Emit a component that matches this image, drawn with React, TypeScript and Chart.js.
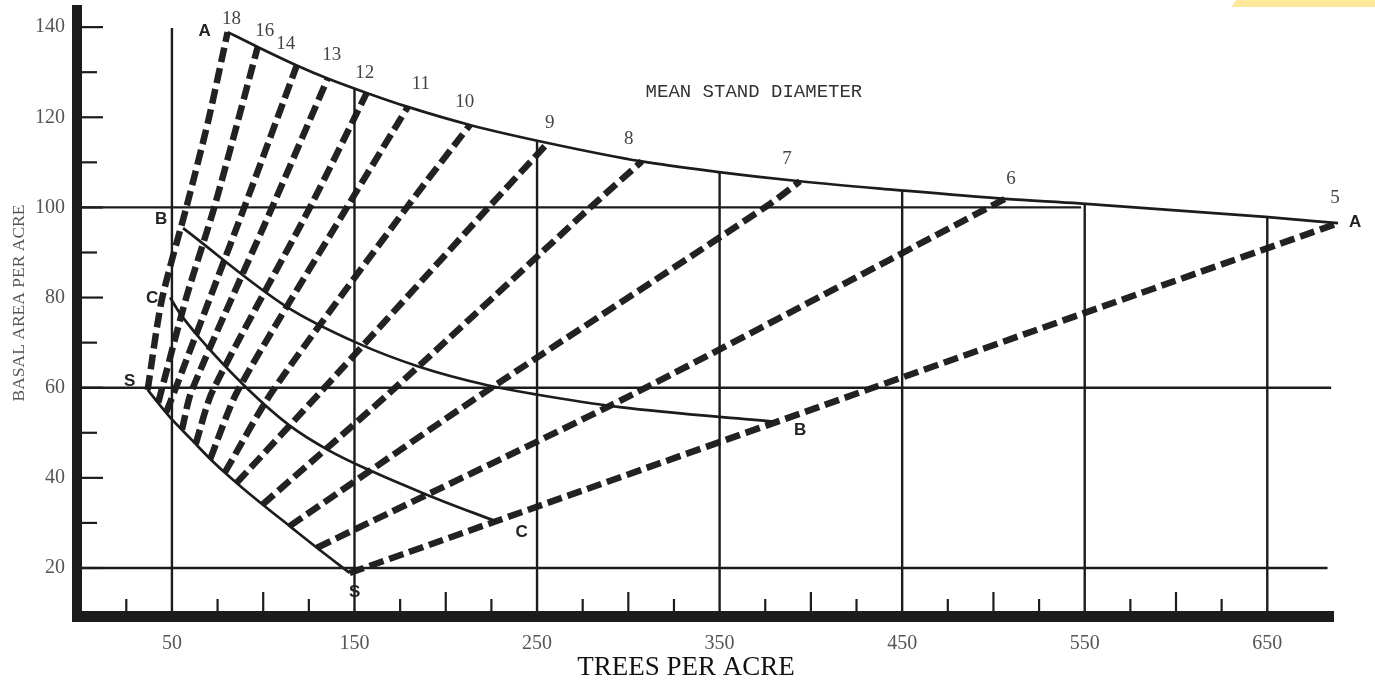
import React, { useEffect, useRef } from "react";
import { Chart, registerables } from "chart.js";

Chart.register(...registerables);

// ---- axis ranges & tick values ----
const X_MIN = -2;
const X_MAX = 686;
const Y_MIN = 9.35;
const Y_MAX = 143.8;
const xLabels = [50, 150, 250, 350, 450, 550, 650];
const xTickMarks = [25, 75, 100, 125, 175, 200, 225, 275, 300, 325, 375, 400, 425, 475, 500, 525, 575, 600, 625];
const yLabels = [20, 40, 60, 80, 100, 120, 140];
const yMinorMarks = [30, 50, 70, 90, 110, 130];

// ---- reference grid lines ----
const hLines = [20, 60, 100];
const hLineEnds = [683, 685, 548];
const vLines = [50, 150, 250, 350, 450, 550, 650];
const vTops = [139.8, 126.4, 114.8, 107.9, 103.8, 100.8, 97.9];

// ---- curves (trees per acre, basal area) ----
const curveA = [[80.5, 138.9], [97, 135.6], [118.4, 131.5], [135.3, 128.6], [156.7, 125.4], [179.2, 122.3], [213.2, 118.3], [255.9, 114.3], [307.4, 110.2], [348.5, 107.9], [394, 105.8], [446, 103.9], [506.3, 101.9], [547, 100.9], [649, 97.9], [688.8, 96.5]];
const curveB = [[56.1, 95.4], [112.7, 78], [151, 70], [185.8, 64.6], [222.3, 60.6], [249.7, 58.5], [295.3, 55.7], [379.3, 52.5]];
const curveC = [[49, 80], [54.2, 76.6], [65.2, 71], [90.8, 60], [114.5, 51.6], [136.4, 46], [156.5, 42], [191.2, 36], [227.8, 30.3]];
const curveS = [[36.7, 59.5], [43.3, 56.2], [50.4, 52.8], [61.4, 48.2], [70.7, 44.3], [80, 40.8], [88.8, 37.7], [98.1, 34.6], [114.5, 29.3], [131, 24], [147.4, 18.9]];

// ---- mean stand diameter lines (inches) ----
const diameters = [18, 16, 14, 13, 12, 11, 10, 9, 8, 7, 6, 5];
const dashed18 = [[36.7, 59.5], [44.4, 79.4], [58.1, 100.3], [70, 119.4], [80.5, 138.9]];
const dashed16 = [[42.5, 56.7], [58, 80.2], [73.4, 100.3], [97, 135.6]];
const dashed14 = [[46.8, 54.5], [51.5, 59.3], [89.9, 100.3], [118.4, 131.5]];
const dashed13 = [[55.5, 50.7], [60.8, 59.3], [105.2, 100.3], [135.3, 128.6]];
const dashed12 = [[63, 47.5], [72.3, 59.3], [126, 100.3], [156.7, 125.4]];
const dashed11 = [[71, 44.2], [86, 59.3], [146.3, 100.3], [179.2, 122.3]];
const dashed10 = [[79, 41.2], [105.2, 59.3], [179.2, 100.3], [213.2, 118.3]];
const dashed9 = [[85.5, 38.9], [132, 59.3], [224.1, 100.3], [255.9, 114.3]];
const dashed8 = [[99.7, 34.1], [170.4, 59.3], [280, 100.3], [307.4, 110.2]];
const dashed7 = [[114.5, 29.3], [222.5, 59.3], [375.9, 100.3], [394, 105.8]];
const dashed6 = [[129.5, 24.5], [300.8, 58.2], [506.3, 101.9]];
const dashed5 = [[147.4, 18.9], [688.8, 96.5]];
const dashedLines = [dashed18, dashed16, dashed14, dashed13, dashed12, dashed11, dashed10, dashed9, dashed8, dashed7, dashed6, dashed5];

// ---- label placement (style, px offsets from the line tops) ----
const diameterLabelOffsets = [[4, -13], [7, -16], [-11, -21], [4, -23], [-2, -20], [13, -23], [-5, -23], [2, -20], [-13, -22], [-13, -22], [6, -20], [-3, -25]];
const curves: Record<string, number[][]> = { A: curveA, B: curveB, C: curveC, S: curveS };
const letterMarks = [
  { curve: "A", end: false, dx: -23, dy: -1 },
  { curve: "A", end: true, dx: 17, dy: -1 },
  { curve: "B", end: false, dx: -22, dy: -9 },
  { curve: "B", end: true, dx: 27, dy: 9 },
  { curve: "C", end: false, dx: -18, dy: 1 },
  { curve: "C", end: true, dx: 25, dy: 11 },
  { curve: "S", end: false, dx: -18, dy: -9 },
  { curve: "S", end: true, dx: 5, dy: 19 },
];

const INK = "#1c1c1c";
const toPts = (arr: number[][]) => arr.map(([x, y]) => ({ x, y }));

const overlayPlugin = {
  id: "overlay",
  afterDatasetsDraw(chart: any) {
    const { ctx, chartArea, scales } = chart;
    const px = (v: number) => scales.x.getPixelForValue(v);
    const py = (v: number) => scales.y.getPixelForValue(v);
    ctx.save();
    // inner tick marks
    ctx.strokeStyle = INK;
    ctx.lineWidth = 2.2;
    const left = chartArea.left + 5;
    const drawY = (v: number, len: number) => {
      ctx.beginPath();
      ctx.moveTo(left, py(v));
      ctx.lineTo(left + len, py(v));
      ctx.stroke();
    };
    yLabels.forEach((v) => drawY(v, 21));
    yMinorMarks.forEach((v) => drawY(v, 15));
    const base = chartArea.bottom - 5;
    xTickMarks.forEach((v) => {
      const len = v % 100 === 0 ? 19 : 12;
      ctx.beginPath();
      ctx.moveTo(px(v), base);
      ctx.lineTo(px(v), base - len);
      ctx.stroke();
    });

    // diameter labels
    ctx.fillStyle = "#444";
    ctx.font = '19px "Liberation Serif"';
    ctx.textAlign = "center";
    ctx.textBaseline = "middle";
    dashedLines.forEach((pts, i) => {
      const [x, y] = pts[pts.length - 1];
      const [dx, dy] = diameterLabelOffsets[i];
      ctx.fillText(String(diameters[i]), px(x) + dx, py(y) + dy);
    });

    // curve letters
    ctx.fillStyle = "#222";
    ctx.font = 'bold 17px "Liberation Sans"';
    letterMarks.forEach((m) => {
      const c = curves[m.curve];
      const [x, y] = m.end ? c[c.length - 1] : c[0];
      ctx.fillText(m.curve, px(x) + m.dx, py(y) + m.dy);
    });

    // annotation
    ctx.fillStyle = "#333";
    ctx.font = '19px "Liberation Mono"';
    ctx.fillText("MEAN STAND DIAMETER", px(368.8), py(125.6));

    // axis titles
    ctx.fillStyle = "#111";
    ctx.font = '27px "Liberation Serif"';
    ctx.fillText("TREES PER ACRE", 686, 668);
    ctx.save();
    ctx.translate(19, 303);
    ctx.rotate(-Math.PI / 2);
    ctx.fillStyle = "#555";
    ctx.font = '17.5px "Liberation Serif"';
    ctx.fillText("BASAL AREA PER ACRE", 0, 0);
    ctx.restore();
    ctx.restore();
  },
};

export default function App() {
  const ref = useRef<HTMLCanvasElement | null>(null);

  useEffect(() => {
    if (!ref.current) return;
    const datasets: any[] = [];
    hLines.forEach((v, i) =>
      datasets.push({
        label: `BA ${v}`,
        data: [{ x: 0, y: v }, { x: hLineEnds[i], y: v }],
        showLine: true, borderColor: INK, borderWidth: 2.4, pointRadius: 0, tension: 0,
      })
    );
    vLines.forEach((v, i) =>
      datasets.push({
        label: `TPA ${v}`,
        data: [{ x: v, y: Y_MIN }, { x: v, y: vTops[i] }],
        showLine: true, borderColor: INK, borderWidth: 2.4, pointRadius: 0, tension: 0,
      })
    );
    Object.entries(curves).forEach(([name, arr]) =>
      datasets.push({
        label: `Curve ${name}`,
        data: toPts(arr),
        showLine: true, borderColor: INK, borderWidth: 2.7, pointRadius: 0,
        cubicInterpolationMode: "monotone", clip: false,
      })
    );
    dashedLines.forEach((arr, i) =>
      datasets.push({
        label: `${diameters[i]} in`,
        data: toPts(arr),
        showLine: true, borderColor: "#222", borderWidth: 6.5, borderDash: [15, 6],
        pointRadius: 0, tension: 0.25, clip: false,
      })
    );

    const chart = new Chart(ref.current, {
      type: "scatter",
      data: { datasets },
      options: {
        animation: false,
        responsive: false,
        devicePixelRatio: 1,
        layout: { padding: { top: 10, right: 42, bottom: 0, left: 0 } },
        plugins: { legend: { display: false }, tooltip: { enabled: false } },
        scales: {
          x: {
            type: "linear",
            min: X_MIN,
            max: X_MAX,
            afterBuildTicks: (ax: any) => { ax.ticks = xLabels.map((v) => ({ value: v })); },
            afterFit: (ax: any) => { ax.height = 65; ax.paddingLeft = 0; ax.paddingRight = 0; },
            grid: { display: false, drawTicks: false },
            border: { display: true, width: 11, color: INK },
            ticks: {
              padding: 18, color: "#555", autoSkip: false, maxRotation: 0,
              font: { family: "Liberation Serif", size: 20, lineHeight: 1 },
            },
          },
          y: {
            type: "linear",
            min: Y_MIN,
            max: Y_MAX,
            afterBuildTicks: (ax: any) => { ax.ticks = yLabels.map((v) => ({ value: v })); },
            afterFit: (ax: any) => { ax.width = 77; ax.paddingTop = 0; ax.paddingBottom = 0; },
            grid: { display: false, drawTicks: false },
            border: { display: true, width: 10, color: INK },
            ticks: {
              padding: 12, color: "#555",
              font: { family: "Liberation Serif", size: 20, lineHeight: 1 },
            },
          },
        },
      } as any,
      plugins: [overlayPlugin],
    });
    return () => chart.destroy();
  }, []);

  return (
    <div style={{ position: "absolute", left: 0, top: 0, width: 1375, height: 681, background: "#fff" }}>
      <canvas ref={ref} width={1375} height={681} style={{ display: "block" }} />
      <div
        style={{
          position: "absolute", left: 1231, top: 0, width: 144, height: 7,
          background: "#fde89c", clipPath: "polygon(5px 0, 100% 0, 100% 100%, 0 100%)",
        }}
      />
    </div>
  );
}
